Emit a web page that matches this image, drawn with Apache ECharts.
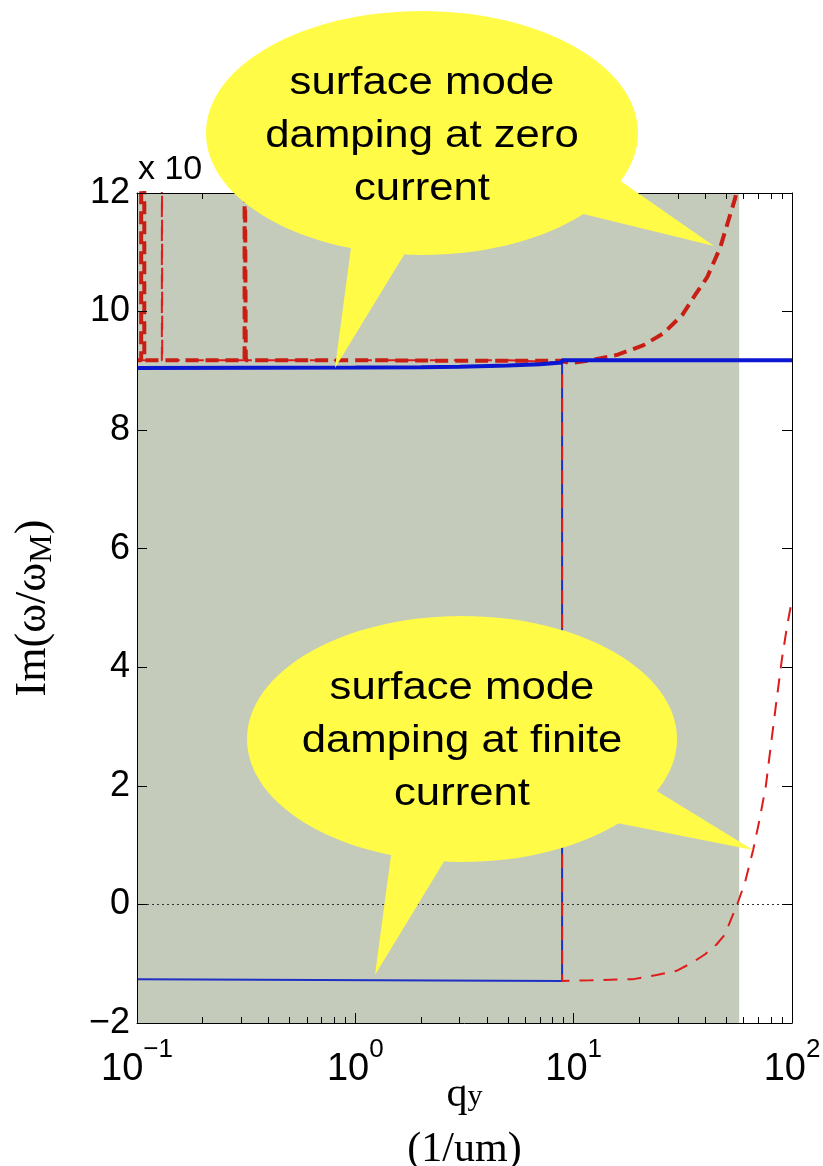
<!DOCTYPE html>
<html><head><meta charset="utf-8">
<script src="https://cdn.jsdelivr.net/npm/echarts@6/dist/echarts.min.js"></script>
<style>html,body{margin:0;padding:0;background:#fff}#c{width:823px;height:1166px}</style>
</head><body><div id="c"></div>
<script>
// ---- tick labels ----
const xTickValues = [0.1, 1, 10, 100];
const xTickExponents = ['\u22121', '0', '1', '2'];
const xMinorTicks = [0.2,0.3,0.4,0.5,0.6,0.7,0.8,0.9,2,3,4,5,6,7,8,9,20,30,40,50,60,70,80,90];
const yTickValues = [-2, 0, 2, 4, 6, 8, 10, 12];
const shadedRange = [0.1, 57.3];

// ---- series values (q_y in 1/um, Im(w/wM) in units of 10^-n) ----
// thick red dashed: surface mode damping at zero current
const zeroCurrentQ  = [0.1, 0.1045, 0.1045, 0.108, 0.108, 0.311, 0.311, 0.315, 0.315, 1, 3, 6, 8.8, 9.6, 12, 15.8, 20.8, 25.7, 31.4, 36.0, 40.9, 46.9, 54.9, 60, 70];
const zeroCurrentIm = [9.18, 9.18, 14, 14, 9.18, 9.18, 14, 14, 9.18, 9.18, 9.17, 9.17, 9.17, 9.13, 9.18, 9.27, 9.43, 9.63, 9.94, 10.28, 10.58, 11.08, 11.91, 12.6, 14];
// thin red dashed: surface mode damping at finite current
const finiteCurrentQ  = [0.1, 0.13, 0.13, 0.1305, 1, 5, 8.85, 8.85, 12, 18.8, 24, 29.6, 35, 40, 45, 49.2, 56.1, 61, 66.5, 71, 75.9, 80, 85, 90, 95, 100];
const finiteCurrentIm = [9.18, 9.18, 14, 9.18, 9.18, 9.18, 9.14, -1.29, -1.28, -1.26, -1.19, -1.12, -0.98, -0.84, -0.68, -0.51, 0, 0.38, 0.93, 1.43, 2.0, 2.68, 3.45, 4.15, 4.7, 5.14];
// thick blue
const blueThickQ  = [0.1, 1, 2, 3, 5, 7, 8.85, 8.85, 100];
const blueThickIm = [9.05, 9.055, 9.06, 9.07, 9.09, 9.11, 9.14, 9.18, 9.18];
// thin blue
const blueThinQ  = [0.1, 8.85, 8.85];
const blueThinIm = [-1.26, -1.29, 9.14];

const zip = (a, b) => a.map((v, i) => [v, b[i]]);
const SANS = '"Liberation Sans", Arial, Helvetica, sans-serif';
const SERIF = '"Liberation Serif", "Times New Roman", serif';

const chart = echarts.init(document.getElementById('c'), null, {renderer: 'canvas'});

const baseX = {
  type: 'log', logBase: 10, min: 0.1, max: 100, z: 10,
  splitLine: {show: false}, minorTick: {show: false}
};

const option = {
  animation: false,
  backgroundColor: '#ffffff',
  grid: {left: 137, right: 31, top: 193, bottom: 143, containLabel: false, outerBoundsMode: 'none'},
  xAxis: [
    Object.assign({}, baseX, {
      position: 'bottom',
      axisLine: {show: true, onZero: false, lineStyle: {color: '#000', width: 1}},
      axisTick: {show: true, inside: true, length: 10, lineStyle: {color: '#000'}},
      axisLabel: {
        show: true, margin: 21, color: '#000',
        formatter: function (v) {
          let idx = 0, best = 1e9;
          xTickValues.forEach((t, i) => { const d = Math.abs(Math.log10(t) - Math.log10(v)); if (d < best) { best = d; idx = i; } });
          return '{b|10}{s|' + xTickExponents[idx] + '}';
        },
        rich: {
          b: {fontSize: 38, fontFamily: SANS, color: '#000', lineHeight: 38, padding: [14, 0, 0, 0]},
          s: {fontSize: 26, fontFamily: SANS, color: '#000', lineHeight: 26, padding: [0, 0, 26, 0]}
        }
      },
      name: '{q|q}{s|y}\n{u|(1/um)}',
      nameLocation: 'middle', nameGap: 44, nameMoveOverlap: false,
      nameTextStyle: {
        color: '#000', fontFamily: SERIF, fontSize: 42,
        rich: {
          q: {fontSize: 42, fontFamily: SERIF, color: '#000', lineHeight: 55},
          s: {fontSize: 30, fontFamily: SERIF, color: '#000', padding: [6, 0, 0, 0]},
          u: {fontSize: 42, fontFamily: SERIF, color: '#000', lineHeight: 55}
        }
      }
    }),
    Object.assign({}, baseX, {
      position: 'top',
      axisLine: {show: true, onZero: false, lineStyle: {color: '#000', width: 1}},
      axisTick: {show: true, inside: true, length: 10, lineStyle: {color: '#000'}},
      axisLabel: {show: false}
    }),
    Object.assign({}, baseX, {
      position: 'bottom',
      axisLine: {show: false, onZero: false},
      axisTick: {show: true, inside: true, length: 6, customValues: xMinorTicks, lineStyle: {color: '#000'}},
      axisLabel: {show: false}
    }),
    Object.assign({}, baseX, {
      position: 'top',
      axisLine: {show: false, onZero: false},
      axisTick: {show: true, inside: true, length: 6, customValues: xMinorTicks, lineStyle: {color: '#000'}},
      axisLabel: {show: false}
    })
  ],
  yAxis: [
    {
      type: 'value', min: -2, max: 12, interval: 2, position: 'left', z: 10,
      splitLine: {show: false},
      axisLine: {show: true, onZero: false, lineStyle: {color: '#000', width: 1}},
      axisTick: {show: true, inside: true, length: 10, lineStyle: {color: '#000'}},
      axisLabel: {
        show: true, margin: 7, color: '#000', fontSize: 36, fontFamily: SANS,
        customValues: yTickValues,
        formatter: v => (v < 0 ? '\u2212' + Math.abs(v) : String(v))
      },
      name: '{a|Im(\u03c9/\u03c9}{s|M}{a|)}',
      nameLocation: 'middle', nameGap: 78, nameRotate: 90, nameMoveOverlap: false,
      nameTextStyle: {
        color: '#000', fontFamily: SERIF, fontSize: 44,
        rich: {
          a: {fontSize: 44, fontFamily: SERIF, color: '#000'},
          s: {fontSize: 32, fontFamily: SERIF, color: '#000', padding: [20, 0, 0, 0]}
        }
      }
    },
    {
      type: 'value', min: -2, max: 12, interval: 2, position: 'right', z: 10,
      splitLine: {show: false},
      axisLine: {show: true, onZero: false, lineStyle: {color: '#000', width: 1}},
      axisTick: {show: true, inside: true, length: 10, lineStyle: {color: '#000'}},
      axisLabel: {show: false}
    }
  ],
  series: [
    {
      name: 'thin blue', type: 'line', xAxisIndex: 0, yAxisIndex: 0,
      data: zip(blueThinQ, blueThinIm), showSymbol: false, symbol: 'none',
      lineStyle: {color: '#1f2fc4', width: 2}, z: 3,
      markArea: {
        silent: true, z: 1, itemStyle: {color: '#c4cbbb'},
        data: [[{xAxis: shadedRange[0], yAxis: -2}, {xAxis: shadedRange[1], yAxis: 12.1}]]
      },
      markLine: {
        silent: true, z: 2, symbol: ['none', 'none'], label: {show: false},
        lineStyle: {color: '#333', type: [2, 3], width: 1},
        data: [{yAxis: 0}]
      }
    },
    {
      name: 'finite current', type: 'line', xAxisIndex: 0, yAxisIndex: 0,
      data: zip(finiteCurrentQ, finiteCurrentIm), showSymbol: false, symbol: 'none',
      lineStyle: {color: '#de1c1c', width: 2, type: [14, 10]}, z: 4
    },
    {
      name: 'zero current', type: 'line', xAxisIndex: 0, yAxisIndex: 0,
      data: zip(zeroCurrentQ, zeroCurrentIm), showSymbol: false, symbol: 'none',
      lineStyle: {color: '#c81e14', width: 4, type: [13, 7]}, z: 5
    },
    {
      name: 'thick blue', type: 'line', xAxisIndex: 0, yAxisIndex: 0,
      data: zip(blueThickQ, blueThickIm), showSymbol: false, symbol: 'none',
      lineStyle: {color: '#0b17d0', width: 4}, z: 6
    }
  ],
  graphic: [
    {type: 'text', x: 138, y: 153, z: 50,
     style: {text: 'x 10', fill: '#000', font: '34px ' + SANS, textAlign: 'left', align: 'left', textVerticalAlign: 'top', verticalAlign: 'top', lineHeight: 34}},
    // top bubble
    {type: 'polygon', z: 100, shape: {points: [[352, 240], [410, 245], [335, 368]]}, style: {fill: '#fffb47'}},
    {type: 'polygon', z: 100, shape: {points: [[575, 212], [612, 175], [714, 246]]}, style: {fill: '#fffb47'}},
    {type: 'ellipse', z: 100, shape: {cx: 422, cy: 133, rx: 216, ry: 122}, style: {fill: '#fffb47'}},
    {type: 'text', x: 422, y: 57, z: 101, scaleX: 1.15,
     style: {text: 'surface mode\ndamping at zero\ncurrent', fill: '#000', font: '38px ' + SANS, textAlign: 'center', align: 'center', textVerticalAlign: 'top', verticalAlign: 'top', lineHeight: 53}},
    // bottom bubble
    {type: 'polygon', z: 100, shape: {points: [[392, 848], [448, 855], [375, 975]]}, style: {fill: '#fffb47'}},
    {type: 'polygon', z: 100, shape: {points: [[652, 788], [612, 822], [753, 850]]}, style: {fill: '#fffb47'}},
    {type: 'ellipse', z: 100, shape: {cx: 462, cy: 739, rx: 215, ry: 123}, style: {fill: '#fffb47'}},
    {type: 'text', x: 462, y: 662, z: 101, scaleX: 1.15,
     style: {text: 'surface mode\ndamping at finite\ncurrent', fill: '#000', font: '38px ' + SANS, textAlign: 'center', align: 'center', textVerticalAlign: 'top', verticalAlign: 'top', lineHeight: 53}}
  ]
};
chart.setOption(option);
</script>
</body></html>
